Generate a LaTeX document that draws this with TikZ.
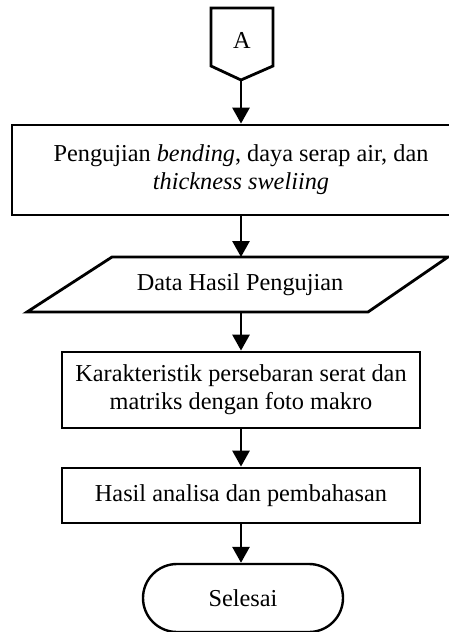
\documentclass[tikz,border=0pt]{standalone}
\usepackage{fontspec}
\setmainfont{Liberation Serif}
\usetikzlibrary{arrows.meta}
\begin{document}
\begin{tikzpicture}[x=1pt,y=-1pt,
 line width=2.8pt, line join=miter,
 box/.style={draw, line width=2.8pt, inner sep=0pt, align=center, font=\fontsize{24.3}{28}\selectfont},
 txt/.style={inner sep=0pt, align=center, font=\fontsize{24.3}{28}\selectfont},
 arr/.style={-{Triangle[length=16pt,width=17pt]}, line width=2.8pt}]
\useasboundingbox (0,0) rectangle (449,632);
\clip (0,0) rectangle (449,632);
% off-page connector
\draw (211,8) -- (273,8) -- (273,66) -- (241,80) -- (211,66) -- cycle;
\node[txt] (A) at (242,40) {A};
\coordinate (Ab) at (241,80);
% box 1
\node[box, minimum width=458pt, minimum height=90pt] (b1) at (241,170)
  {Pengujian \textit{bending}, daya serap air, dan\\ \textit{thickness sweliing}};
% data parallelogram
\draw (112,257) -- (448,257) -- (368,312) -- (27,312) -- cycle;
\node[txt] (data) at (240,285) {Data Hasil Pengujian};
\coordinate (dt) at (241,257);
\coordinate (db) at (241,312);
% box 3
\node[box, minimum width=358pt, minimum height=76pt] (b3) at (241,390)
  {Karakteristik persebaran serat dan\\ matriks dengan foto makro};
% box 4
\node[box, minimum width=358pt, minimum height=55pt] (b4) at (241,495.5)
  {Hasil analisa dan pembahasan};
% terminal
\node[box, line width=2.4pt, rounded corners=34pt, minimum width=200pt, minimum height=68pt] (t) at (243,598)
  {Selesai};
% connectors
\draw[arr] (Ab) -- (b1.north);
\draw[arr] (b1.south) -- (dt);
\draw[arr] (db) -- (b3.north);
\draw[arr] (b3.south) -- (b4.north);
\draw[arr] (b4.south) -- (b4.south |- t.north);
\end{tikzpicture}
\end{document}
